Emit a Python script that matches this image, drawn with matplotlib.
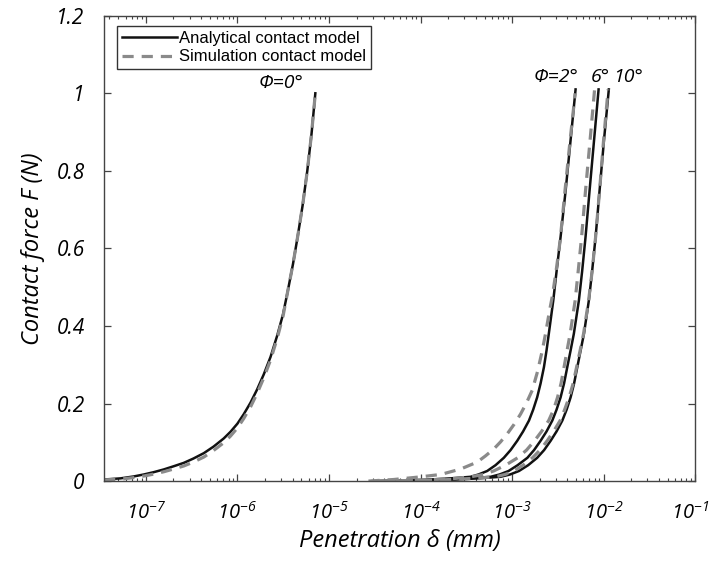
import numpy as np
import matplotlib

matplotlib.use("Agg")
import matplotlib.pyplot as plt
import matplotlib.transforms as mtransforms
from matplotlib.ticker import FixedLocator, LogLocator, NullFormatter

plt.rcParams["font.family"] = ["Open Sans", "DejaVu Sans"]
plt.rcParams["mathtext.fontset"] = "custom"
plt.rcParams["mathtext.it"] = "Open Sans:italic"
plt.rcParams["mathtext.rm"] = "Open Sans:italic"
plt.rcParams["mathtext.default"] = "it"
plt.rcParams["axes.unicode_minus"] = False

# ---- data: penetration delta (mm) vs contact force F (N) ----
# phi = 0 deg
D0 = [3.5e-8, 5.3e-8, 7.4e-8, 9.5e-8, 1.22e-7, 1.57e-7, 2.0e-7, 2.6e-7,
      3.3e-7, 4.3e-7, 5.5e-7, 7.1e-7, 8.4e-7, 1.0e-6, 1.17e-6, 1.39e-6,
      1.64e-6, 1.94e-6, 2.30e-6, 2.72e-6, 3.15e-6, 3.55e-6, 4.05e-6,
      4.55e-6, 5.15e-6, 5.8e-6, 6.45e-6, 7.1e-6]
F0_ANA = [0.004, 0.007, 0.012, 0.017, 0.023, 0.030, 0.038, 0.047,
          0.058, 0.072, 0.089, 0.110, 0.127, 0.148, 0.172, 0.202,
          0.236, 0.275, 0.320, 0.375, 0.43, 0.49, 0.56,
          0.63, 0.71, 0.80, 0.895, 1.0]
F0_SIM = [0.003, 0.005, 0.009, 0.013, 0.018, 0.024, 0.031, 0.039,
          0.049, 0.062, 0.079, 0.099, 0.116, 0.137, 0.161, 0.191,
          0.226, 0.266, 0.312, 0.368, 0.425, 0.49, 0.56,
          0.63, 0.71, 0.80, 0.895, 1.0]

# phi = 2, 6, 10 deg, sampled at common force levels
F_LEVELS = [0.0, 0.001, 0.004, 0.007, 0.011, 0.017, 0.026, 0.041, 0.060,
            0.080, 0.104, 0.128, 0.156, 0.184, 0.216, 0.252, 0.294, 0.337,
            0.380, 0.466, 0.54, 0.63, 0.75, 0.88, 1.01]
D2_ANA = [2.99e-5, 6.04e-5, 1.29e-4, 2.13e-4, 3.52e-4, 4.30e-4, 5.35e-4,
          6.60e-4, 8.13e-4, 9.64e-4, 1.14e-3, 1.32e-3, 1.53e-3, 1.70e-3,
          1.88e-3, 2.05e-3, 2.23e-3, 2.38e-3, 2.52e-3, 2.82e-3, 3.06e-3,
          3.39e-3, 3.85e-3, 4.36e-3, 4.94e-3]
D6_ANA = [3.66e-5, 7.78e-5, 1.88e-4, 3.35e-4, 5.82e-4, 7.30e-4, 9.16e-4,
          1.15e-3, 1.47e-3, 1.74e-3, 2.05e-3, 2.38e-3, 2.75e-3, 3.06e-3,
          3.39e-3, 3.70e-3, 4.01e-3, 4.36e-3, 4.73e-3, 5.37e-3, 5.82e-3,
          6.35e-3, 7.03e-3, 7.87e-3, 8.81e-3]
D10_ANA = [4.14e-5, 9.51e-5, 2.42e-4, 4.30e-4, 7.48e-4, 9.51e-4, 1.19e-3,
           1.50e-3, 1.88e-3, 2.24e-3, 2.64e-3, 3.06e-3, 3.54e-3, 3.94e-3,
           4.36e-3, 4.76e-3, 5.16e-3, 5.61e-3, 6.10e-3, 6.90e-3, 7.48e-3,
           8.18e-3, 9.04e-3, 1.01e-2, 1.14e-2]

D2_SIM = [2.70e-5, 5.07e-5, 9.20e-5, 1.66e-4, 2.74e-4, 4.17e-4, 5.13e-4,
          6.33e-4, 7.48e-4, 8.87e-4, 1.05e-3, 1.24e-3, 1.44e-3, 1.66e-3,
          1.90e-3, 2.14e-3, 2.32e-3, 2.57e-3, 2.77e-3, 3.06e-3, 3.35e-3,
          3.79e-3, 4.31e-3, 4.89e-3]
F2_SIM = [0.0, 0.004, 0.010, 0.017, 0.031, 0.049, 0.065,
          0.083, 0.101, 0.122, 0.146, 0.173, 0.202, 0.234,
          0.283, 0.337, 0.38, 0.44, 0.48, 0.55, 0.62,
          0.75, 0.88, 1.0]
D6_SIM = [3.30e-5, 6.85e-5, 1.46e-4, 2.42e-4, 3.52e-4, 4.88e-4, 6.28e-4,
          8.49e-4, 1.15e-3, 1.44e-3, 1.76e-3, 2.10e-3, 2.51e-3, 2.84e-3,
          3.14e-3, 3.43e-3, 3.70e-3, 3.99e-3, 4.31e-3, 4.89e-3, 5.27e-3,
          5.75e-3, 6.35e-3, 7.12e-3, 7.97e-3]
D10_SIM = [3.85e-5, 8.59e-5, 2.13e-4, 3.79e-4, 6.60e-4, 8.38e-4, 1.05e-3,
           1.32e-3, 1.67e-3, 2.02e-3, 2.42e-3, 2.84e-3, 3.35e-3, 3.75e-3,
           4.20e-3, 4.65e-3, 5.07e-3, 5.54e-3, 6.04e-3, 6.86e-3, 7.48e-3,
           8.18e-3, 9.04e-3, 1.00e-2, 1.12e-2]

X_TICKS = [1e-7, 1e-6, 1e-5, 1e-4, 1e-3, 1e-2, 1e-1]
X_TICKLABELS = [r"$10^{-7}$", r"$10^{-6}$", r"$10^{-5}$", r"$10^{-4}$",
                r"$10^{-3}$", r"$10^{-2}$", r"$10^{-1}$"]
Y_TICKS = [0, 0.2, 0.4, 0.6, 0.8, 1.0, 1.2]
Y_TICKLABELS = ["0", "0.2", "0.4", "0.6", "0.8", "1", "1.2"]

ANA_KW = dict(color="#111111", lw=1.8, ls="-")
SIM_KW = dict(color="#8a8a8a", lw=2.3, ls=(0, (3.5, 2.5)))

fig = plt.figure(figsize=(7.13, 5.62), dpi=100)
ax = fig.add_axes([0.146, 0.144, 0.829, 0.828])

ax.plot(D0, F0_ANA, label="Analytical contact model", **ANA_KW)
ax.plot(D2_ANA, F_LEVELS, **ANA_KW)
ax.plot(D6_ANA, F_LEVELS, **ANA_KW)
ax.plot(D10_ANA, F_LEVELS, **ANA_KW)

ax.plot(D0, F0_SIM, label="Simulation contact model", **SIM_KW)
ax.plot(D2_SIM, F2_SIM, **SIM_KW)
ax.plot(D6_SIM, F_LEVELS, **SIM_KW)
ax.plot(D10_SIM, F_LEVELS, **SIM_KW)

ax.set_xscale("log")
ax.set_xlim(3.5e-8, 1e-1)
ax.set_ylim(0, 1.2)
ax.xaxis.set_major_locator(FixedLocator(X_TICKS))
ax.set_xticklabels(X_TICKLABELS)
ax.xaxis.set_minor_locator(LogLocator(base=10, subs=np.arange(2, 10)))
ax.xaxis.set_minor_formatter(NullFormatter())
ax.set_yticks(Y_TICKS)
ax.set_yticklabels(Y_TICKLABELS)

ax.tick_params(which="both", direction="in", top=True, right=True,
               colors="#444444", labelcolor="black")
ax.tick_params(which="major", length=5, width=0.9)
ax.tick_params(which="minor", length=2.5, width=0.8)
ax.tick_params(axis="x", which="major", pad=15, labelsize=14.5)
ax.tick_params(axis="y", which="major", pad=14, labelsize=15)
for lbl in ax.get_yticklabels():
    lbl.set_fontstyle("italic")
# keep the last x label inside the canvas, as in the original
last = ax.get_xticklabels()[-1]
last.set_transform(last.get_transform() +
                   mtransforms.ScaledTranslation(-5 / 100, 0, fig.dpi_scale_trans))
for sp in ax.spines.values():
    sp.set_color("#444444")
    sp.set_linewidth(1.0)

ax.set_xlabel("Penetration δ (mm)", fontsize=17, style="italic", labelpad=4)
ax.set_ylabel("Contact force F (N)", fontsize=17, style="italic", labelpad=8)

txt_kw = dict(fontsize=14, style="italic", ha="center", va="baseline", zorder=6)
ax.text(3.0e-6, 1.013, "Φ=0°", **txt_kw)
ax.text(3.05e-3, 1.03, "Φ=2°", **txt_kw)
ax.text(9.3e-3, 1.03, "6°", **txt_kw)
ax.text(1.85e-2, 1.03, "10°", **txt_kw)

leg = ax.legend(loc="upper left", bbox_to_anchor=(0.016, 0.985), frameon=True,
                fancybox=False, edgecolor="#333333", framealpha=1,
                prop={"family": "Liberation Sans", "size": 12},
                handlelength=3.3, handletextpad=0.15, borderpad=0.3,
                labelspacing=0.2, borderaxespad=0.2)
leg.get_frame().set_linewidth(1.0)

fig.savefig("out.png", dpi=100)
